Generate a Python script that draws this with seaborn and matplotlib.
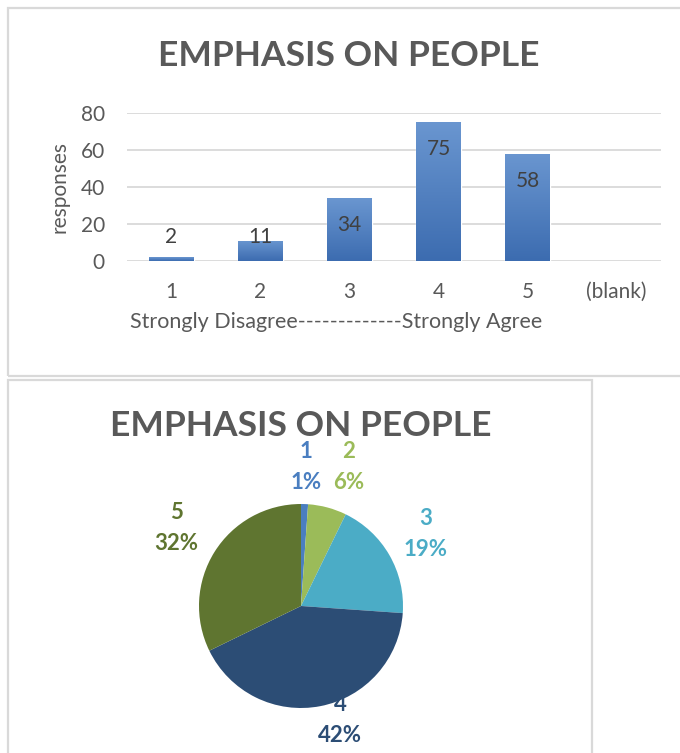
import numpy as np
import pandas as pd
import matplotlib
matplotlib.use("Agg")
import matplotlib.pyplot as plt
import seaborn as sns
from matplotlib.patches import Rectangle
from matplotlib.colors import LinearSegmentedColormap

# ---------------- data ----------------
title = "EMPHASIS ON PEOPLE"
scores = ["1", "2", "3", "4", "5"]
axis_categories = ["1", "2", "3", "4", "5", "(blank)"]
responses = [2, 11, 34, 75, 58]
y_ticks = [0, 20, 40, 60, 80]
y_label = "responses"
x_label = "Strongly Disagree-------------Strongly Agree"
pie_colors = ["#4A7EC0", "#9BBB59", "#4BACC6", "#2C4D75", "#5F7530"]

# ---------------- style ----------------
sns.set_theme(style="white")
plt.rcParams["font.family"] = ["Lato", "DejaVu Sans"]
TXT = "#595959"
FS = 15

W, H = 680, 753
fig = plt.figure(figsize=(W / 100, H / 100), dpi=100)
fig.patch.set_facecolor("white")

def fx(px):
    return px / W

def fy(py):
    return 1 - py / H

# panel frames
fig.add_artist(Rectangle((fx(8), fy(376)), fx(700), (376 - 8) / H,
                         transform=fig.transFigure, fill=False,
                         edgecolor="#D9D9D9", lw=1.6))
fig.add_artist(Rectangle((fx(8), fy(800)), fx(592 - 8), (800 - 380) / H,
                         transform=fig.transFigure, fill=False,
                         edgecolor="#D9D9D9", lw=1.6))

# ---------------- bar chart ----------------
ax = fig.add_axes([fx(127), fy(261), fx(661 - 127), (261 - 113) / H])
df = pd.DataFrame({"score": scores, "responses": responses})
sns.barplot(data=df, x="score", y="responses", order=axis_categories,
            color="#4A7EC0", width=0.5, saturation=1, ax=ax)
ax.set_ylim(0, 80)
ax.set_yticks(y_ticks)
ax.yaxis.grid(True, color="#D9D9D9", lw=1.3)
ax.set_axisbelow(True)
sns.despine(ax=ax, left=True, bottom=True)
ax.tick_params(axis="both", length=0, colors=TXT, labelsize=FS)
ax.tick_params(axis="x", pad=15)
ax.tick_params(axis="y", pad=16)
ax.set_ylabel(y_label, color=TXT, fontsize=FS, labelpad=8)
ax.set_xlabel("")
ax.text(fx(336), fy(322), x_label, transform=fig.transFigure,
        ha="center", va="center", color=TXT, fontsize=15.5)

# gradient fill on bars
cmap = LinearSegmentedColormap.from_list("g", ["#3C6CB0", "#6A96D0"])
grad = np.linspace(0, 1, 256).reshape(-1, 1)
for p in ax.patches:
    h = p.get_height()
    if not np.isfinite(h) or h <= 0:
        continue
    x0 = p.get_x()
    w = p.get_width()
    im = ax.imshow(grad, cmap=cmap, origin="lower", aspect="auto",
                   extent=(x0, x0 + w, 0, h), zorder=p.get_zorder() + 0.1)
    im.set_clip_path(p)
    # data label
    ly = max(h - 14.6, 13)
    ax.text(x0 + w / 2, ly, f"{int(h)}", ha="center", va="center",
            color="#404040", fontsize=FS, zorder=5)
ax.set_xlim(-0.5, len(axis_categories) - 0.5)
ax.set_ylim(0, 80)

fig.text(fx(349), fy(56), title, ha="center", va="center",
         fontsize=25.5, fontweight="bold", color=TXT)

# ---------------- pie chart ----------------
R = 102
half = 150
ax2 = fig.add_axes([fx(301 - half), fy(606 + half), fx(2 * half), 2 * half / H])
wedges, texts = ax2.pie(responses, colors=pie_colors, startangle=90,
                        counterclock=False, radius=1,
                        wedgeprops=dict(linewidth=0))
total = sum(responses)
label_dist = [1.36, 1.44, 1.41, 1.18, 1.44]
label_turn = [0, -4, 0, 8, 0]
for w, s, v, c, d, t in zip(wedges, scores, responses, pie_colors,
                            label_dist, label_turn):
    ang = np.deg2rad((w.theta1 + w.theta2) / 2 + t)
    ax2.text(d * np.cos(ang), d * np.sin(ang),
             f"{s}\n{round(100 * v / total)}%", ha="center", va="center",
             color=c, fontsize=16, fontweight="bold", linespacing=1.6)
lim = half / R
ax2.set_xlim(-lim, lim)
ax2.set_ylim(-lim, lim)
ax2.set_aspect("equal")
ax2.axis("off")

fig.text(fx(301), fy(426), title, ha="center", va="center",
         fontsize=25.5, fontweight="bold", color=TXT)

fig.savefig("out.png", dpi=100)
